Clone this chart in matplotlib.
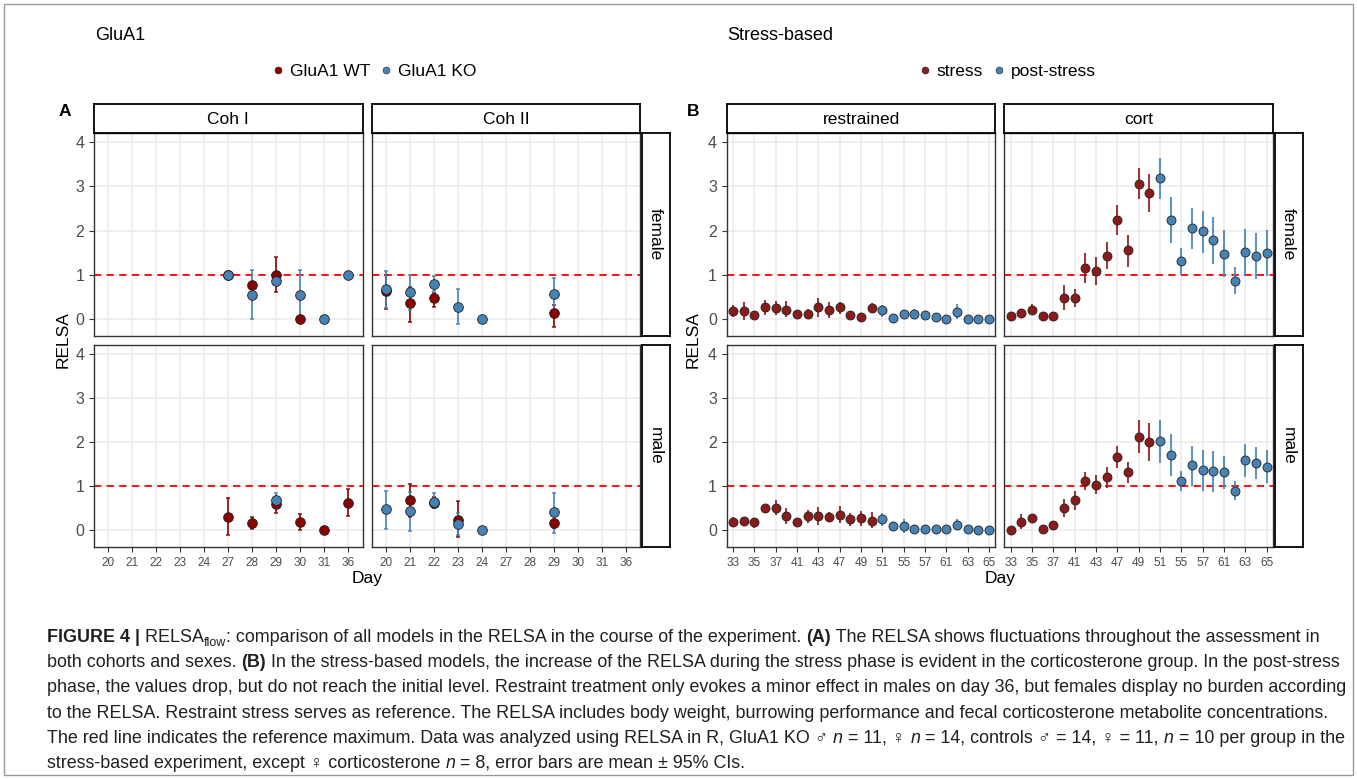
import matplotlib
matplotlib.use('Agg')
from matplotlib import pyplot as plt
from matplotlib.lines import Line2D
from matplotlib.patches import Rectangle

plt.rcParams['font.family'] = ['Liberation Sans', 'DejaVu Sans']

W, H = 1357, 779

# ---------------- data: panel A (GluA1) ----------------
days_a = ['20', '21', '22', '23', '24', '27', '28', '29', '30', '31', '36']

# (days, mean, lower CI, upper CI)
coh1_female_wt = (['27', '28', '29', '30'], [1.0, 0.77, 1.0, 0.0],
                  [1.0, 0.77, 0.61, 0.0], [1.0, 0.77, 1.39, 0.0])
coh1_female_ko = (['27', '28', '29', '30', '31', '36'], [1.0, 0.55, 0.86, 0.55, 0.0, 1.0],
                  [1.0, 0.0, 0.78, 0.0, 0.0, 1.0], [1.0, 1.11, 0.95, 1.11, 0.0, 1.0])
coh2_female_wt = (['20', '21', '22', '29'], [0.64, 0.36, 0.46, 0.13],
                  [0.23, -0.08, 0.27, -0.18], [1.0, 0.72, 0.58, 0.31])
coh2_female_ko = (['20', '21', '22', '23', '24', '29'], [0.67, 0.61, 0.79, 0.27, 0.0, 0.56],
                  [0.25, 0.2, 0.62, -0.12, 0.0, 0.12], [1.09, 1.0, 0.98, 0.67, 0.0, 0.93])
coh1_male_wt = (['27', '28', '29', '30', '31', '36'], [0.30, 0.16, 0.58, 0.18, 0.0, 0.62],
                [-0.11, 0.02, 0.38, 0.0, 0.0, 0.32], [0.73, 0.30, 0.75, 0.37, 0.0, 0.93])
coh1_male_ko = (['29'], [0.68], [0.53], [0.84])
coh2_male_wt = (['21', '22', '23', '29'], [0.68, 0.62, 0.23, 0.15],
                [0.30, 0.49, -0.17, 0.05], [1.04, 0.75, 0.65, 0.25])
coh2_male_ko = (['20', '21', '22', '23', '24', '29'], [0.47, 0.43, 0.64, 0.14, 0.0, 0.40],
                [0.03, -0.02, 0.50, -0.11, 0.0, -0.06], [0.89, 0.86, 0.85, 0.38, 0.0, 0.85])

# ---------------- data: panel B (stress-based) ----------------
days_b = ['33', '34', '35', '36', '37', '39', '41', '42', '43', '45', '47', '48', '49', '50',
          '51', '53', '55', '56', '57', '59', '61', '62', '63', '64', '65']
stress_days = days_b[:14]
post_days = days_b[14:]

restr_female = [0.18, 0.18, 0.08, 0.27, 0.24, 0.21, 0.11, 0.11, 0.26, 0.21, 0.26, 0.08, 0.05, 0.24,
                0.19, 0.02, 0.10, 0.11, 0.08, 0.04, 0.0, 0.16, 0.0, 0.0, 0.0]
restr_female_lo = [0.05, -0.02, 0.08, 0.08, 0.08, 0.05, 0.11, 0.0, 0.05, 0.01, 0.11, 0.08, 0.05, 0.12,
                   0.05, 0.02, 0.03, 0.0, 0.08, 0.04, 0.0, 0.0, 0.0, 0.0, 0.0]
restr_female_hi = [0.31, 0.37, 0.08, 0.42, 0.41, 0.40, 0.11, 0.23, 0.47, 0.39, 0.39, 0.08, 0.05, 0.36,
                   0.31, 0.02, 0.17, 0.23, 0.08, 0.04, 0.0, 0.33, 0.0, 0.0, 0.0]

cort_female = [0.06, 0.12, 0.20, 0.07, 0.07, 0.48, 0.48, 1.14, 1.08, 1.43, 2.24, 1.55, 3.06, 2.86,
               3.19, 2.23, 1.31, 2.06, 1.98, 1.78, 1.47, 0.86, 1.51, 1.43, 1.49]
cort_female_lo = [0.06, 0.12, 0.11, 0.07, 0.07, 0.20, 0.27, 0.80, 0.77, 1.13, 1.90, 1.18, 2.71, 2.43,
                  2.72, 1.71, 1.00, 1.59, 1.48, 1.24, 0.95, 0.56, 0.98, 0.90, 0.98]
cort_female_hi = [0.06, 0.12, 0.33, 0.07, 0.07, 0.76, 0.67, 1.48, 1.39, 1.73, 2.58, 1.90, 3.42, 3.27,
                  3.65, 2.75, 1.61, 2.52, 2.45, 2.30, 2.02, 1.17, 2.04, 1.94, 2.02]

restr_male = [0.18, 0.20, 0.18, 0.50, 0.50, 0.32, 0.18, 0.31, 0.32, 0.30, 0.34, 0.24, 0.26, 0.21,
              0.24, 0.08, 0.08, 0.02, 0.01, 0.02, 0.01, 0.11, 0.01, 0.0, 0.0]
restr_male_lo = [0.08, 0.08, 0.05, 0.50, 0.33, 0.14, 0.18, 0.15, 0.11, 0.19, 0.15, 0.09, 0.08, 0.04,
                 0.09, -0.02, -0.08, 0.02, 0.01, 0.02, 0.01, -0.01, 0.01, 0.0, 0.0]
restr_male_hi = [0.29, 0.30, 0.28, 0.50, 0.67, 0.50, 0.18, 0.46, 0.53, 0.40, 0.54, 0.39, 0.44, 0.40,
                 0.39, 0.19, 0.24, 0.02, 0.01, 0.02, 0.01, 0.25, 0.01, 0.0, 0.0]

cort_male = [0.0, 0.19, 0.28, 0.02, 0.11, 0.50, 0.68, 1.11, 1.03, 1.20, 1.66, 1.31, 2.11, 2.00,
             2.02, 1.71, 1.11, 1.47, 1.36, 1.34, 1.32, 0.89, 1.58, 1.53, 1.44]
cort_male_lo = [0.0, 0.03, 0.28, 0.02, 0.11, 0.30, 0.45, 0.90, 0.81, 0.95, 1.40, 1.07, 1.75, 1.56,
                1.53, 1.22, 0.89, 1.00, 0.89, 0.86, 0.94, 0.67, 1.21, 1.16, 1.07]
cort_male_hi = [0.0, 0.36, 0.28, 0.02, 0.11, 0.70, 0.89, 1.32, 1.25, 1.44, 1.92, 1.55, 2.50, 2.43,
                2.50, 2.19, 1.35, 1.92, 1.83, 1.80, 1.69, 1.11, 1.96, 1.89, 1.82]

yticks = [0, 1, 2, 3, 4]

RED_A = '#8B0000'
RED_B = '#8B1A1A'
BLUE = '#4682B4'
TICKCOL = '#4D4D4D'

fig = plt.figure(figsize=(W / 100, H / 100), dpi=100)


def box(x0, y0, x1, y1):
    return [x0 / W, 1 - y1 / H, (x1 - x0) / W, (y1 - y0) / H]


def panel(x0, y0, x1, y1, ncat, ticks, labels, left, bottom, xlab_size):
    ax = fig.add_axes(box(x0, y0, x1, y1))
    ax.set_xlim(-0.6, ncat - 0.4)
    ax.set_ylim(-0.39, 4.21)
    ax.set_xticks(ticks)
    ax.set_yticks(yticks)
    ax.grid(True, color='#EBEBEB', lw=1.1, zorder=0)
    ax.set_axisbelow(True)
    for s in ax.spines.values():
        s.set_color('#333333')
        s.set_linewidth(1.0)
    ax.tick_params(color='#333333', length=3.5, width=0.8, labelcolor=TICKCOL)
    if bottom:
        ax.set_xticklabels(labels, fontsize=xlab_size)
    else:
        ax.tick_params(axis='x', length=0, labelbottom=False)
    if left:
        ax.set_yticklabels([str(t) for t in yticks], fontsize=11.5)
    else:
        ax.tick_params(axis='y', length=0, labelleft=False)
    ax.axhline(1, color='#FF0000', lw=1.3, ls=(0, (4, 3)), zorder=2)
    return ax


def strip_top(x0, x1, text):
    s = fig.add_axes(box(x0, 104, x1, 133))
    s.set_xticks([])
    s.set_yticks([])
    for sp in s.spines.values():
        sp.set_color('black')
        sp.set_linewidth(1.3)
    s.text(0.5, 0.45, text, ha='center', va='center', fontsize=12.5, transform=s.transAxes)


def strip_right(x0, x1, y0, y1, text):
    s = fig.add_axes(box(x0, y0, x1, y1))
    s.set_xticks([])
    s.set_yticks([])
    for sp in s.spines.values():
        sp.set_color('black')
        sp.set_linewidth(1.3)
    s.text(0.5, 0.5, text, ha='center', va='center', rotation=-90, fontsize=12.5,
           transform=s.transAxes)


def plot_a(ax, group, color):
    days, mean, lo, hi = group
    x = [days_a.index(d) for d in days]
    err = [[m - l for m, l in zip(mean, lo)], [h - m for h, m in zip(hi, mean)]]
    ax.errorbar(x, mean, yerr=err, fmt='none', ecolor=color, elinewidth=1.4, capsize=1.3,
                capthick=1.2, alpha=0.85, zorder=3)


def points_a(ax, group, color):
    days, mean, lo, hi = group
    x = [days_a.index(d) for d in days]
    ax.plot(x, mean, 'o', ms=7, mfc=color, mec='#222222', mew=0.6, zorder=4)


def plot_b(ax, mean, lo, hi):
    for days, color in ((stress_days, RED_B), (post_days, BLUE)):
        idx = [days_b.index(d) for d in days]
        m = [mean[i] for i in idx]
        err = [[mean[i] - lo[i] for i in idx], [hi[i] - mean[i] for i in idx]]
        ax.errorbar(idx, m, yerr=err, fmt='none', ecolor=color, elinewidth=1.5, alpha=0.85,
                    zorder=3)
    for days, color in ((stress_days, RED_B), (post_days, BLUE)):
        idx = [days_b.index(d) for d in days]
        ax.plot(idx, [mean[i] for i in idx], 'o', ms=6.5, mfc=color, mec='#222222', mew=0.6,
                zorder=4)


# ---------------- panel A ----------------
ticks_a = list(range(len(days_a)))
cols_a = [(94, 362.7), (371.7, 640.4)]
rows = [(133, 336), (345, 547)]
groups_a = [[(coh1_female_wt, coh1_female_ko), (coh2_female_wt, coh2_female_ko)],
            [(coh1_male_wt, coh1_male_ko), (coh2_male_wt, coh2_male_ko)]]
for r, (y0, y1) in enumerate(rows):
    for c, (x0, x1) in enumerate(cols_a):
        ax = panel(x0, y0, x1, y1, len(days_a), ticks_a, days_a, c == 0, r == 1, 8.5)
        wt, ko = groups_a[r][c]
        plot_a(ax, wt, RED_A)
        plot_a(ax, ko, BLUE)
        points_a(ax, wt, RED_A)
        points_a(ax, ko, BLUE)

strip_top(94, 362.7, 'Coh I')
strip_top(371.7, 640.4, 'Coh II')
strip_right(641.5, 669.5, 133, 336, 'female')
strip_right(641.5, 669.5, 345, 547, 'male')

# ---------------- panel B ----------------
ticks_b = list(range(0, len(days_b), 2))
labels_b = days_b[::2]
cols_b = [(726.7, 995.3), (1004.3, 1273)]
series_b = [[(restr_female, restr_female_lo, restr_female_hi),
             (cort_female, cort_female_lo, cort_female_hi)],
            [(restr_male, restr_male_lo, restr_male_hi),
             (cort_male, cort_male_lo, cort_male_hi)]]
for r, (y0, y1) in enumerate(rows):
    for c, (x0, x1) in enumerate(cols_b):
        ax = panel(x0, y0, x1, y1, len(days_b), ticks_b, labels_b, c == 0, r == 1, 8.5)
        plot_b(ax, *series_b[r][c])

strip_top(726.7, 995.3, 'restrained')
strip_top(1004.3, 1273, 'cort')
strip_right(1274.5, 1302.5, 133, 336, 'female')
strip_right(1274.5, 1302.5, 345, 547, 'male')


# ---------------- titles, labels, legends ----------------
def ftext(x, y, s, **kw):
    return fig.text(x / W, 1 - y / H, s, **kw)


ftext(95, 35, 'GluA1', ha='left', va='center', fontsize=13)
ftext(727, 35, 'Stress-based', ha='left', va='center', fontsize=13)
ftext(65, 111, 'A', ha='center', va='center', fontsize=12.5, fontweight='bold')
ftext(693, 111, 'B', ha='center', va='center', fontsize=12.5, fontweight='bold')
ftext(63, 340, 'RELSA', ha='center', va='center', rotation=90, fontsize=12.5)
ftext(693, 340, 'RELSA', ha='center', va='center', rotation=90, fontsize=12.5)
ftext(367, 578, 'Day', ha='center', va='center', fontsize=12.5)
ftext(1000, 578, 'Day', ha='center', va='center', fontsize=12.5)

h_a = [Line2D([], [], ls='', marker='o', ms=5, mfc=RED_A, mec='#222222', mew=0.4),
       Line2D([], [], ls='', marker='o', ms=5, mfc=BLUE, mec='#222222', mew=0.4)]
fig.legend(h_a, ['GluA1 WT', 'GluA1 KO'], loc='center', bbox_to_anchor=(372 / W, 1 - 71 / H),
           ncol=2, frameon=False, fontsize=12.5, handletextpad=0.1, columnspacing=0.3,
           handlelength=1.2)
h_b = [Line2D([], [], ls='', marker='o', ms=5, mfc=RED_B, mec='#222222', mew=0.4),
       Line2D([], [], ls='', marker='o', ms=5, mfc=BLUE, mec='#222222', mew=0.4)]
fig.legend(h_b, ['stress', 'post-stress'], loc='center', bbox_to_anchor=(1005 / W, 1 - 71 / H),
           ncol=2, frameon=False, fontsize=12.5, handletextpad=0.1, columnspacing=0.3,
           handlelength=1.2)

# outer frame
fig.patches.append(Rectangle((4 / W, 4 / H), 1 - 8 / W, 1 - 8 / H, transform=fig.transFigure,
                             fill=False, ec='#9A9A9A', lw=1.0))

# ---------------- caption ----------------
renderer = fig.canvas.get_renderer()
CAP = ['Liberation Sans', 'DejaVu Sans']
CAP_SIZE = 12.85


def seg_width(s, size, weight, style):
    t1 = fig.text(0, 0, '|' + s + '|', fontsize=size, fontweight=weight, fontstyle=style,
                  family=CAP)
    t2 = fig.text(0, 0, '||', fontsize=size, fontweight=weight, fontstyle=style, family=CAP)
    w = t1.get_window_extent(renderer).width - t2.get_window_extent(renderer).width
    t1.remove()
    t2.remove()
    return w


def caption_line(y, segs):
    x = 47
    for s, opt in segs:
        size = CAP_SIZE * (0.7 if opt == 'sub' else 1)
        weight = 'bold' if opt == 'b' else 'normal'
        style = 'italic' if opt == 'i' else 'normal'
        yy = y + (4 if opt == 'sub' else 0)
        ftext(x, yy, s, ha='left', va='baseline', fontsize=size, fontweight=weight,
              fontstyle=style, family=CAP, color='#231F20')
        x += seg_width(s, size, weight, style)


caption = [
    [('FIGURE 4 |', 'b'), (' RELSA', ''), ('flow', 'sub'),
     (': comparison of all models in the RELSA in the course of the experiment. ', ''),
     ('(A)', 'b'), (' The RELSA shows fluctuations throughout the assessment in', '')],
    [('both cohorts and sexes. ', ''), ('(B)', 'b'),
     (' In the stress-based models, the increase of the RELSA during the stress phase is evident '
      'in the corticosterone group. In the post-stress', '')],
    [('phase, the values drop, but do not reach the initial level. Restraint treatment only evokes '
      'a minor effect in males on day 36, but females display no burden according', '')],
    [('to the RELSA. Restraint stress serves as reference. The RELSA includes body weight, '
      'burrowing performance and fecal corticosterone metabolite concentrations.', '')],
    [('The red line indicates the reference maximum. Data was analyzed using RELSA in R, '
      'GluA1 KO \u2642 ', ''), ('n', 'i'), (' = 11, \u2640 ', ''), ('n', 'i'),
     (' = 14, controls \u2642 = 14, \u2640 = 11, ', ''), ('n', 'i'), (' = 10 per group in the', '')],
    [('stress-based experiment, except \u2640 corticosterone ', ''), ('n', 'i'),
     (' = 8, error bars are mean \u00b1 95% CIs.', '')],
]
for k, segs in enumerate(caption):
    caption_line(642 + k * 25.2, segs)

fig.savefig('out.png', dpi=100)
